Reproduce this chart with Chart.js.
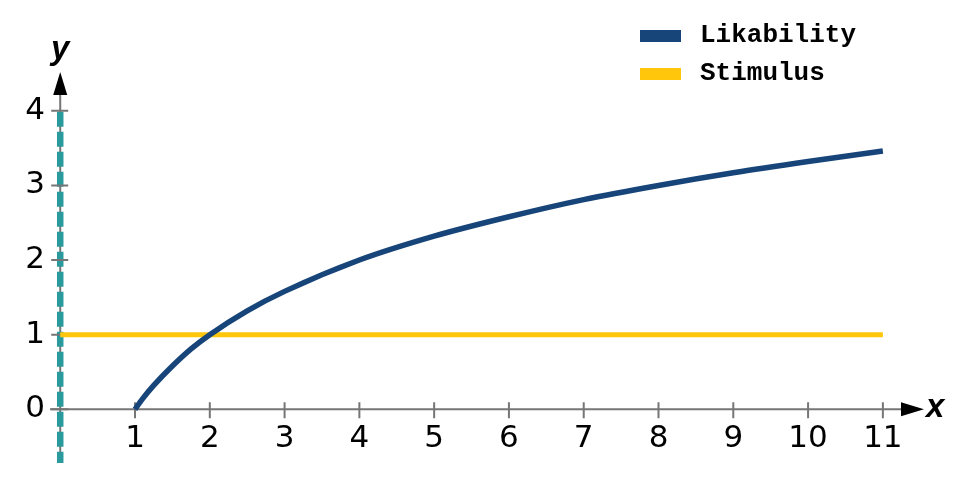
<!DOCTYPE html>
<html>
<head>
<meta charset="utf-8">
<script src="https://cdn.jsdelivr.net/npm/chart.js@4"></script>
<style>
  html, body { margin: 0; padding: 0; background: #fff; }
  #wrap { width: 961px; height: 478px; position: relative; }
</style>
</head>
<body>
<div id="wrap"><canvas id="chart"></canvas></div>
<script>
// values
const likabilityX = [1, 1.1, 1.25, 1.5, 1.75, 2, 2.5, 3, 4, 5, 6, 7, 8, 9, 10, 11];
const likabilityY = [0, 0.14, 0.32, 0.58, 0.81, 1, 1.32, 1.58, 2, 2.32, 2.58, 2.81, 3, 3.17, 3.32, 3.46];
const stimulusX = [0, 11];
const stimulusY = [1, 1];
const xTicks = [1, 2, 3, 4, 5, 6, 7, 8, 9, 10, 11];
const yTicks = [0, 1, 2, 3, 4];
const seriesNames = ['Likability', 'Stimulus'];

const AXIS_GRAY = '#767676';
const BLUE = '#17457a';
const YELLOW = '#ffc60b';
const TEAL = '#2a9a9c';

function toPoints(xs, ys) {
    return xs.map((x, i) => ({ x: x, y: ys[i] }));
}

function noPadding(s) {
    s.paddingTop = 0;
    s.paddingBottom = 0;
    s.paddingLeft = 0;
    s.paddingRight = 0;
}

const axesPlugin = {
    id: 'arrowAxes',
    beforeDatasetsDraw(chart) {
        const ctx = chart.ctx;
        const xs = chart.scales.x, ys = chart.scales.y;
        const x0 = xs.getPixelForValue(0), y0 = ys.getPixelForValue(0);
        const left = chart.chartArea.left, right = chart.chartArea.right;
        const top = chart.chartArea.top, bottom = chart.chartArea.bottom;
        ctx.save();
        ctx.strokeStyle = AXIS_GRAY;
        ctx.fillStyle = '#000';
        ctx.lineWidth = 2;
        // x axis
        ctx.beginPath();
        ctx.moveTo(left - 2, y0);
        ctx.lineTo(right - 20, y0);
        ctx.stroke();
        ctx.beginPath();
        ctx.moveTo(right, y0);
        ctx.lineTo(right - 23, y0 - 7);
        ctx.lineTo(right - 23, y0 + 7);
        ctx.closePath();
        ctx.fill();
        // y axis
        ctx.beginPath();
        ctx.moveTo(x0, bottom);
        ctx.lineTo(x0, top + 20);
        ctx.stroke();
        ctx.beginPath();
        ctx.moveTo(x0, top);
        ctx.lineTo(x0 - 7, top + 23);
        ctx.lineTo(x0 + 7, top + 23);
        ctx.closePath();
        ctx.fill();

        // dashed teal line along the y axis
        ctx.strokeStyle = TEAL;
        ctx.lineWidth = 6.5;
        ctx.setLineDash([15, 5]);
        ctx.beginPath();
        ctx.moveTo(x0, ys.getPixelForValue(4) + 1);
        ctx.lineTo(x0, bottom);
        ctx.stroke();
        ctx.setLineDash([]);

        // tick marks
        ctx.strokeStyle = AXIS_GRAY;
        ctx.lineWidth = 2;
        ctx.beginPath();
        xTicks.forEach(v => {
            const p = xs.getPixelForValue(v);
            ctx.moveTo(p, y0 - 7);
            ctx.lineTo(p, y0 + 9);
        });
        yTicks.forEach(v => {
            const p = ys.getPixelForValue(v);
            ctx.moveTo(x0 - 9, p);
            ctx.lineTo(x0 + 8, p);
        });
        ctx.stroke();
        ctx.restore();
    },
    afterDraw(chart) {
        const ctx = chart.ctx;
        const xs = chart.scales.x, ys = chart.scales.y;
        const x0 = xs.getPixelForValue(0), y0 = ys.getPixelForValue(0);
        ctx.save();
        ctx.fillStyle = '#000';
        ctx.font = 'italic bold 33px "Liberation Sans"';
        ctx.textBaseline = 'middle';
        ctx.textAlign = 'left';
        ctx.fillText('x', chart.chartArea.right + 2, y0 - 1);
        ctx.textAlign = 'center';
        ctx.fillText('y', x0, 50);

        // legend
        ctx.font = 'bold 26px "Liberation Mono"';
        ctx.textAlign = 'left';
        ctx.textBaseline = 'alphabetic';
        chart.data.datasets.forEach((ds, i) => {
            const yy = 30 + i * 38;
            ctx.fillStyle = ds.borderColor;
            ctx.fillRect(640, yy, 41, 12);
            ctx.fillStyle = '#000';
            ctx.fillText(ds.label, 700, yy + 12);
        });
        ctx.restore();
    }
};

const tickFont = { family: '"DejaVu Sans"', size: 31 };

new Chart(document.getElementById('chart'), {
    type: 'line',
    data: {
        datasets: [
            {
                label: seriesNames[0],
                data: toPoints(likabilityX, likabilityY),
                borderColor: BLUE,
                borderWidth: 5.5,
                pointRadius: 0,
                cubicInterpolationMode: 'monotone',
                borderCapStyle: 'butt'
            },
            {
                label: seriesNames[1],
                data: toPoints(stimulusX, stimulusY),
                borderColor: YELLOW,
                borderWidth: 5,
                pointRadius: 0
            }
        ]
    },
    options: {
        responsive: true,
        maintainAspectRatio: false,
        animation: false,
        layout: { padding: { left: 0, right: 37, top: 72, bottom: 15 } },
        plugins: { legend: { display: false }, tooltip: { enabled: false } },
        scales: {
            x: {
                type: 'linear',
                axis: 'x',
                position: { y: 0 },
                min: -0.11,
                max: 11.55,
                grid: { display: false, drawTicks: false },
                border: { display: false },
                afterFit: s => { s.height = 0; noPadding(s); },
                afterBuildTicks: s => { s.ticks = xTicks.map(v => ({ value: v })); },
                ticks: { font: tickFont, color: '#000', padding: 11, maxRotation: 0, autoSkip: false }
            },
            y: {
                type: 'linear',
                position: 'left',
                min: -0.72,
                max: 4.52,
                grid: { display: false, drawTicks: false },
                border: { display: false },
                afterFit: s => { s.width = 52; noPadding(s); },
                afterBuildTicks: s => { s.ticks = yTicks.map(v => ({ value: v })); },
                ticks: { font: tickFont, color: '#000', padding: 7, autoSkip: false }
            }
        }
    },
    plugins: [axesPlugin]
});
</script>
</body>
</html>
